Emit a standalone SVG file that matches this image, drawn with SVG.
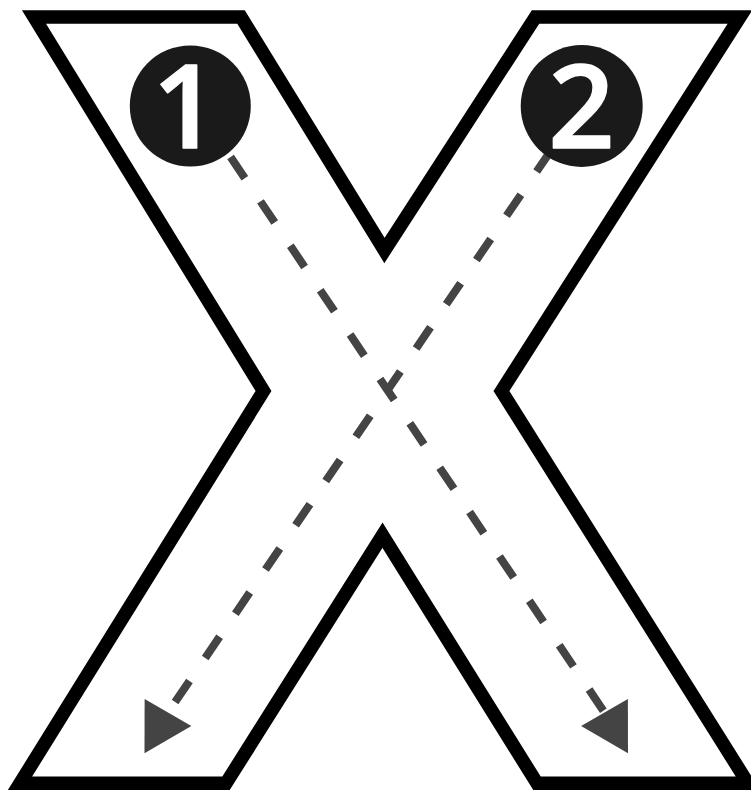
<svg xmlns="http://www.w3.org/2000/svg" width="751" height="792" viewBox="0 0 751 792">
  <style>
    .outline { fill: #ffffff; stroke: #000000; stroke-width: 13.5; stroke-linejoin: miter; stroke-miterlimit: 10; }
    .path { fill: none; stroke: #444444; stroke-width: 8; stroke-dasharray: 25.5 28; stroke-linecap: butt; }
    .badge { fill: #1a1a1a; }
    .num { fill: #ffffff; stroke: #ffffff; stroke-width: 1.5; stroke-linejoin: round; font-family: "Open Sans", "DejaVu Sans", sans-serif; font-weight: 600; font-size: 116px; text-anchor: middle; }
  </style>
  <defs>
    <marker id="arrowR" markerUnits="userSpaceOnUse" markerWidth="60" markerHeight="60" refX="0" refY="0" orient="60" overflow="visible">
      <path d="M0,-27 L47,0 L0,27 Z" fill="#444444"/>
    </marker>
    <marker id="arrowL" markerUnits="userSpaceOnUse" markerWidth="60" markerHeight="60" refX="0" refY="0" orient="120" overflow="visible">
      <path d="M0,-27 L47,0 L0,27 Z" fill="#444444"/>
    </marker>
  </defs>
  <rect width="751" height="792" fill="#ffffff"/>
  <g id="x-shape">
    <polygon class="outline" points="34,17 241,17 384.5,250.5 535.5,17 740,17 501.5,391 748,783.3 537,783.3 382.5,535.2 226,783.3 20,783.3 263.5,391"/>
  </g>
  <g id="connectors">
    <line class="path" x1="230.6" y1="157" x2="604.5" y2="712.5" marker-end="url(#arrowR)"/>
    <line class="path" x1="551" y1="150.5" x2="168" y2="712.5" marker-end="url(#arrowL)"/>
  </g>
  <g id="step1">
    <circle class="badge" cx="190.3" cy="106" r="60.5"/>
    <text class="num" x="185.5" y="148">1</text>
  </g>
  <g id="step2">
    <circle class="badge" cx="581.7" cy="106" r="61"/>
    <text class="num" x="581.5" y="148">2</text>
  </g>
</svg>
